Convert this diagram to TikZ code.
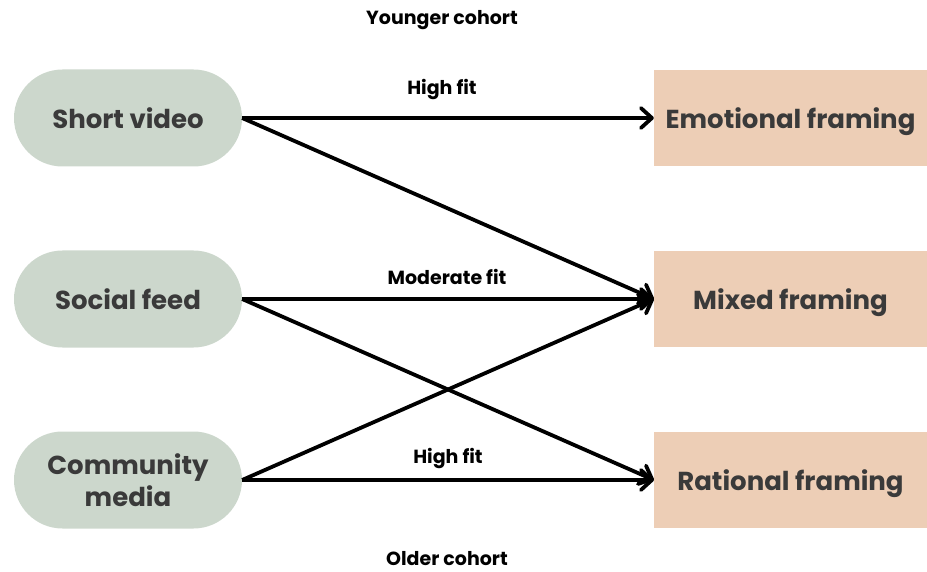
\documentclass[tikz,border=0pt]{standalone}
\usepackage{fontspec}
\setmainfont{Poppins}
\usetikzlibrary{arrows.meta}
\definecolor{pillc}{HTML}{CCD7CC}
\definecolor{rectc}{HTML}{EDCEB6}
\definecolor{txtc}{HTML}{3A3A3A}
\begin{document}
\begin{tikzpicture}[x=1pt,y=-1pt,
  pill/.style={rectangle, fill=pillc, minimum width=228pt, minimum height=97pt, rounded corners=48.5pt, font=\fontsize{26}{31}\selectfont\bfseries, text=txtc, align=center, inner sep=0pt, text depth=0.05em},
  frame/.style={rectangle, fill=rectc, minimum width=273pt, minimum height=96pt, font=\fontsize{26}{31}\selectfont\bfseries, text=txtc, inner sep=0pt, text depth=0.05em},
  lab/.style={font=\fontsize{19}{22}\selectfont\bfseries, text=black},
  conn/.style={line width=3.8pt, -{Straight Barb[length=11pt,width=20pt,line width=3.8pt,round]}}
]
\useasboundingbox (0,0) rectangle (927,572);
\node[pill] (sv) at (128,118) {Short video};
\node[pill] (sf) at (128,299) {Social feed};
\node[pill] (cm) at (128,480) {Community\\[1pt]media};
\node[frame] (ef) at (790.5,118) {Emotional framing};
\node[frame] (mf) at (790.5,299) {Mixed framing};
\node[frame] (rf) at (790.5,480) {Rational framing};
\node[lab] (yc) at (442,20) {Younger cohort};
\node[lab] (h1) at (442,90) {High fit};
\node[lab] (mo) at (447,277) {Moderate fit};
\node[lab] (h2) at (448,459) {High fit};
\node[lab] (oc) at (447,559) {Older cohort};
\draw[conn] (sv.east) -- (ef.west);
\draw[conn] (sv.east) -- (mf.west);
\draw[conn] (sf.east) -- (mf.west);
\draw[conn] (sf.east) -- (rf.west);
\draw[conn] (cm.east) -- (mf.west);
\draw[conn] (cm.east) -- (rf.west);
\end{tikzpicture}
\end{document}
